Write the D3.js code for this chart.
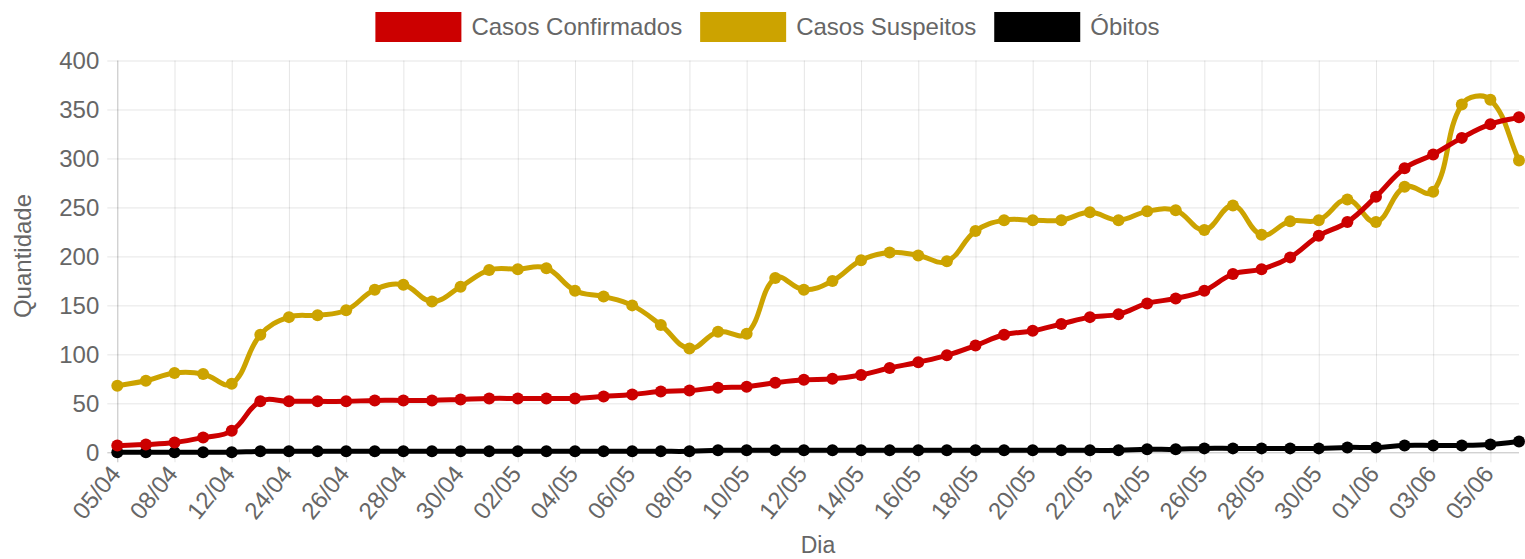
<!DOCTYPE html>
<html>
<head>
<meta charset="utf-8">
<script src="https://cdn.jsdelivr.net/npm/d3@7"></script>
<style>
  html, body { margin: 0; padding: 0; background: #fff; }
  svg { display: block; }
  text { font-family: "Liberation Sans", Arial, Helvetica, sans-serif; fill: #666; }
</style>
</head>
<body>
<svg id="chart" width="1525" height="559"></svg>
<script>
const dias = ["05/04","07/04","08/04","10/04","12/04","22/04","24/04","25/04","26/04","27/04",
  "28/04","29/04","30/04","01/05","02/05","03/05","04/05","05/05","06/05","07/05",
  "08/05","09/05","10/05","11/05","12/05","13/05","14/05","15/05","16/05","17/05",
  "18/05","19/05","20/05","21/05","22/05","23/05","24/05","25/05","26/05","27/05",
  "28/05","29/05","30/05","31/05","01/06","02/06","03/06","04/06","05/06","06/06"];

const casosConfirmados = [7,8,10,15,22,52,52,52,52,53,53,53,54,55,55,55,55,57,59,62,
  63,66,67,71,74,75,79,86,92,99,109,120,124,131,138,141,152,157,165,182,
  187,199,221,235,261,290,304,321,335,342];

const casosSuspeitos = [68,73,81,80,70,120,138,140,145,166,171,154,169,186,187,188,165,159,150,130,
  106,123,121,178,166,175,196,204,201,195,226,237,237,237,245,237,246,247,227,252,
  222,236,237,258,235,271,266,355,360,298];

const obitos = [0,0,0,0,0,1,1,1,1,1,1,1,1,1,1,1,1,1,1,1,
  1,2,2,2,2,2,2,2,2,2,2,2,2,2,2,2,3,3,4,4,
  4,4,4,5,5,7,7,7,8,11];

const yTicks = [0,50,100,150,200,250,300,350,400];

const seriesNames = ["Casos Confirmados","Casos Suspeitos","Óbitos"];
const seriesColors = ["#cc0000","#cca300","#000000"];
const seriesData = [casosConfirmados, casosSuspeitos, obitos];

const svg = d3.select("#chart");
const pL = 117.3, pR = 1519, pT = 60.5, pB = 452.3;

const x = d3.scalePoint().domain(dias).range([pL, pR]);
const y = d3.scaleLinear().domain([0, 400]).range([pB, pT]);

// horizontal grid
const yAxis = d3.axisLeft(y).tickValues(yTicks).tickSize(-(pR - pL)).tickPadding(10).tickSizeOuter(0);
const gy = svg.append("g").attr("transform", `translate(${pL},0)`).call(yAxis);
gy.select(".domain").remove();
gy.selectAll(".tick line").attr("stroke", "rgba(0,0,0,0.1)").attr("x1", -10);
gy.selectAll(".tick line").filter(d => d === 0).attr("stroke", "rgba(0,0,0,0.25)");
gy.selectAll(".tick text").attr("font-size", 24).attr("fill", "#666").attr("x", -18).attr("dy", "0.35em");

// vertical grid (every other label shown)
const shown = dias.filter((d, i) => i % 2 === 0);
const xAxis = d3.axisBottom(x).tickValues(shown).tickSize(-(pB - pT)).tickSizeOuter(0);
const gx = svg.append("g").attr("transform", `translate(0,${pB})`).call(xAxis);
gx.select(".domain").remove();
gx.selectAll(".tick line").attr("stroke", "rgba(0,0,0,0.1)").attr("y2", -(pB - pT)).attr("y1", 10);
gx.selectAll(".tick line").filter(d => d === dias[0]).attr("stroke", "rgba(0,0,0,0.25)");
gx.selectAll(".tick text")
  .attr("font-size", 24).attr("fill", "#666")
  .attr("y", 0).attr("dy", 0)
  .attr("text-anchor", "end")
  .attr("transform", "translate(4,22) rotate(-51)");

// axis titles
svg.append("text").attr("x", 818).attr("y", 553).attr("text-anchor", "middle")
  .attr("font-size", 23).text("Dia");
svg.append("text").attr("transform", "translate(31,256) rotate(-90)").attr("text-anchor", "middle")
  .attr("font-size", 24).text("Quantidade");

// Chart.js-like spline
function splinePath(vals) {
  const pts = vals.map((v, i) => ({ x: x(dias[i]), y: y(v) }));
  const t = 0.4;
  pts.forEach((p, i) => {
    const prev = pts[i - 1] || p, next = pts[i + 1] || p;
    const d01 = Math.hypot(p.x - prev.x, p.y - prev.y);
    const d12 = Math.hypot(next.x - p.x, next.y - p.y);
    let s01 = d01 / (d01 + d12), s12 = d12 / (d01 + d12);
    if (!isFinite(s01)) s01 = 0;
    if (!isFinite(s12)) s12 = 0;
    const fa = t * s01, fb = t * s12;
    p.cpPrev = { x: p.x - fa * (next.x - prev.x), y: p.y - fa * (next.y - prev.y) };
    p.cpNext = { x: p.x + fb * (next.x - prev.x), y: p.y + fb * (next.y - prev.y) };
    [p.cpPrev, p.cpNext].forEach(c => {
      c.x = Math.max(pL, Math.min(pR, c.x));
      c.y = Math.max(pT, Math.min(pB, c.y));
    });
  });
  const path = d3.path();
  pts.forEach((p, i) => {
    if (i === 0) path.moveTo(p.x, p.y);
    else {
      const q = pts[i - 1];
      path.bezierCurveTo(q.cpNext.x, q.cpNext.y, p.cpPrev.x, p.cpPrev.y, p.x, p.y);
    }
  });
  return path.toString();
}

// draw series: last dataset first so the first is on top
for (let s = seriesData.length - 1; s >= 0; s--) {
  const g = svg.append("g");
  g.append("path").attr("d", splinePath(seriesData[s]))
    .attr("fill", "none").attr("stroke", seriesColors[s]).attr("stroke-width", 5)
    .attr("stroke-linejoin", "round");
  g.selectAll("circle").data(seriesData[s]).join("circle")
    .attr("cx", (d, i) => x(dias[i])).attr("cy", d => y(d)).attr("r", 6)
    .attr("fill", seriesColors[s]);
}

// legend
const legend = svg.append("g");
let lx = 0;
seriesNames.forEach((name, i) => {
  const it = legend.append("g").attr("transform", `translate(${lx},0)`);
  it.append("rect").attr("x", 0).attr("y", 12).attr("width", 86).attr("height", 30)
    .attr("fill", seriesColors[i]);
  const tx = it.append("text").attr("x", 96).attr("y", 27).attr("dy", "0.35em")
    .attr("font-size", 24).text(name);
  const w = tx.node().getComputedTextLength();
  lx += 96 + w + 18;
});
const totalW = lx - 18;
legend.attr("transform", `translate(${(1525 - totalW) / 2 + 5},0)`);
</script>
</body>
</html>
